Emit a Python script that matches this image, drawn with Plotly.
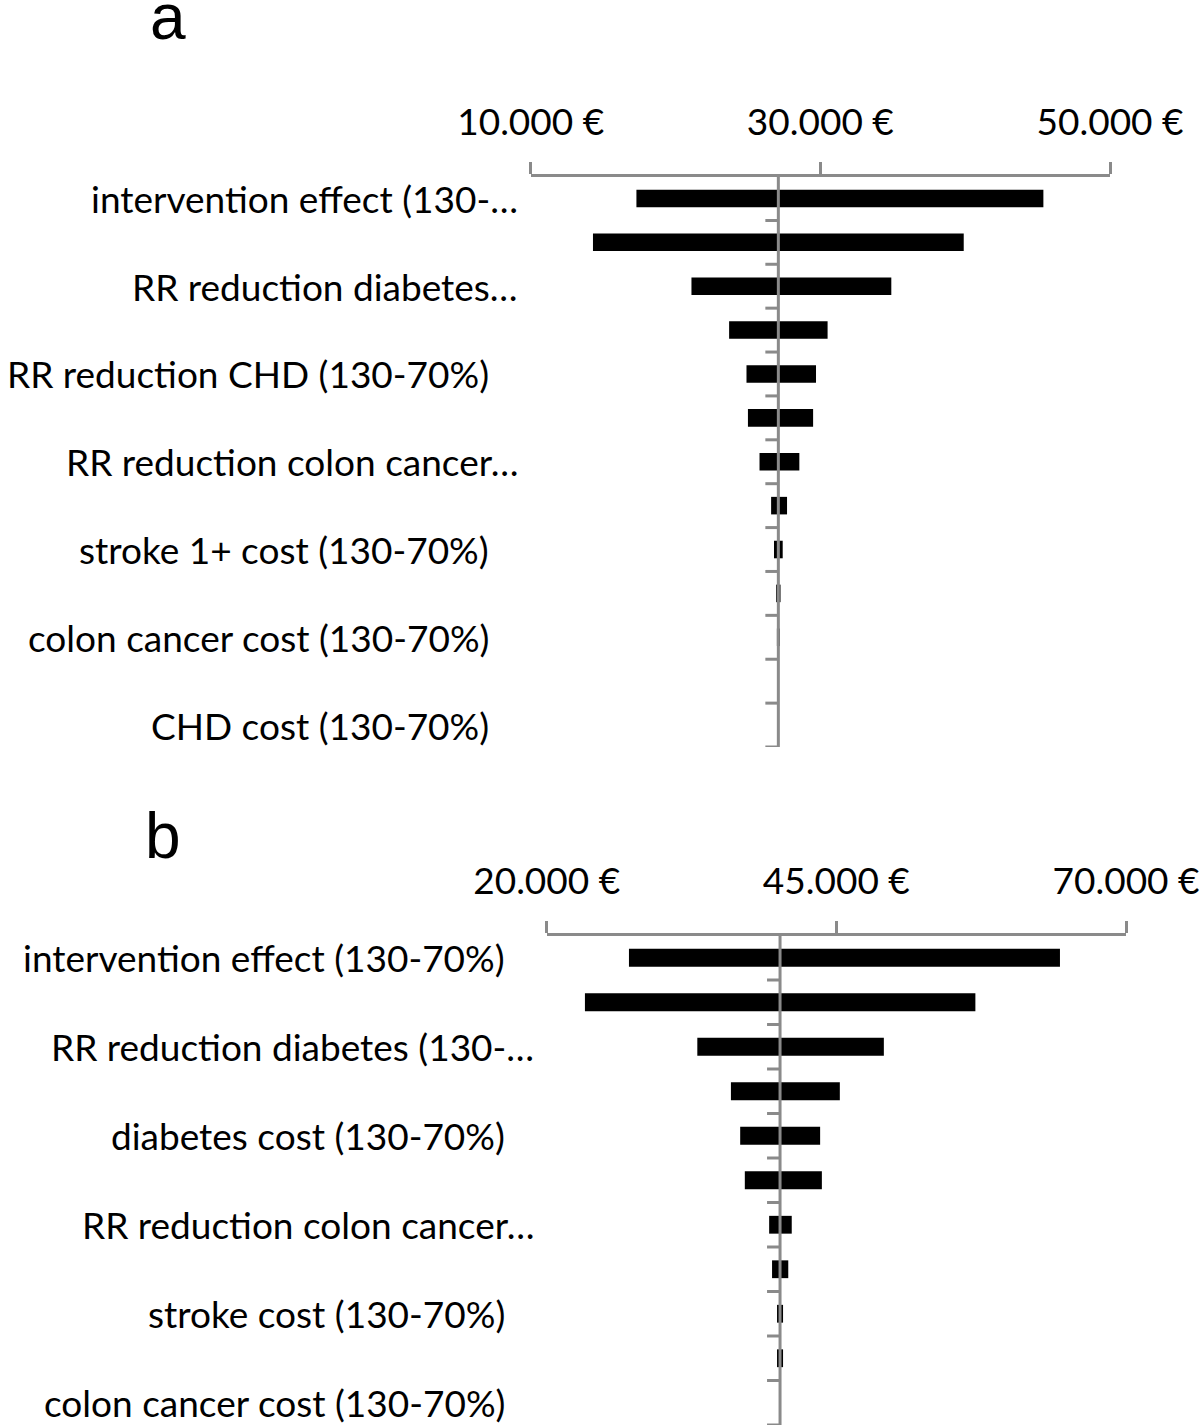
import plotly.graph_objects as go

# ---------------- data ----------------
labels_a = ["intervention effect (130-…", "", "RR reduction diabetes…", "",
            "RR reduction CHD (130-70%)", "", "RR reduction colon cancer…", "",
            "stroke 1+ cost (130-70%)", "", "colon cancer cost (130-70%)", "",
            "CHD cost (130-70%)"]
low_a = [17300, 14300, 21100, 23700, 24900, 25000, 25800, 26600, 26800, 26950, 27000, 27100, 27100]
high_a = [45400, 39900, 34900, 30500, 29700, 29500, 28550, 27700, 27400, 27250, 27200, 27100, 27100]
base_a = 27100
ticks_a = [10000, 30000, 50000]
ticktext_a = ["10.000 €", "30.000 €", "50.000 €"]

labels_b = ["intervention effect (130-70%)", "", "RR reduction diabetes (130-…", "",
            "diabetes cost (130-70%)", "", "RR reduction colon cancer…", "",
            "stroke cost (130-70%)", "", "colon cancer cost (130-70%)"]
low_b = [27100, 23300, 33000, 35900, 36700, 37100, 39200, 39450, 39880, 39880, 40140]
high_b = [64300, 57000, 49100, 45300, 43600, 43750, 41150, 40850, 40400, 40400, 40140]
base_b = 40140
ticks_b = [20000, 45000, 70000]
ticktext_b = ["20.000 €", "45.000 €", "70.000 €"]

# ---------------- style ----------------
W, H = 1200, 1427
GRAY = "#8a8a8a"
FONT = "Lato"
FS = 37

fig = go.Figure()

panels = [
    dict(labels=labels_a, low=low_a, high=high_a, base=base_a, ticks=ticks_a, tt=ticktext_a,
         xa="x", ya="y", xdom=[530.7 / W, 1110 / W], ydom=[1 - 747 / H, 1 - 176.5 / H]),
    dict(labels=labels_b, low=low_b, high=high_b, base=base_b, ticks=ticks_b, tt=ticktext_b,
         xa="x2", ya="y2", xdom=[546.7 / W, 1126 / W], ydom=[1 - 1425 / H, 1 - 935.5 / H]),
]

shapes = []
annotations = []
for i, p in enumerate(panels):
    n = len(p["labels"])
    ypos = list(range(n))
    widths = [h - l for l, h in zip(p["low"], p["high"])]
    fig.add_trace(go.Bar(
        x=widths, base=p["low"], y=ypos, orientation="h",
        marker=dict(color="black", line=dict(width=0)),
        width=0.4, xaxis=p["xa"], yaxis=p["ya"], showlegend=False, hoverinfo="skip",
    ))
    suffix = "" if i == 0 else "2"
    fig.update_layout(**{
        "xaxis" + suffix: dict(
            domain=p["xdom"], anchor=p["ya"], side="top", automargin=False,
            range=[p["ticks"][0], p["ticks"][-1]],
            tickvals=p["ticks"], ticktext=p["tt"],
            showgrid=False, zeroline=False, showline=True,
            linecolor=GRAY, linewidth=3, ticks="outside", ticklen=12,
            tickwidth=3, tickcolor=GRAY, ticklabelstandoff=12,
            tickfont=dict(family=FONT, size=FS, color="black"),
        ),
        "yaxis" + suffix: dict(
            domain=p["ydom"], anchor=p["xa"], range=[n - 0.5, -0.5], automargin=False,
            showgrid=False, zeroline=False, showline=False,
            showticklabels=False, ticks="",
        ),
    })
    # center (baseline) line
    shapes.append(dict(type="line", xref=p["xa"], yref=p["ya"], x0=p["base"], x1=p["base"],
                       y0=-0.5, y1=n - 0.5, line=dict(color=GRAY, width=3), layer="above"))
    # category boundary ticks
    for k in range(n):
        shapes.append(dict(type="line", xref=p["xa"], yref=p["ya"], xsizemode="pixel",
                           xanchor=p["base"], x0=-13, x1=0, y0=k + 0.5, y1=k + 0.5,
                           line=dict(color=GRAY, width=3), layer="above"))
    # category labels
    for k, lab in enumerate(p["labels"]):
        if not lab:
            continue
        annotations.append(dict(
            text=lab, xref=p["xa"] + " domain", yref=p["ya"], x=0, y=k,
            xanchor="right", yanchor="middle",
            xshift=-11 if lab.endswith("…") else -40,
            showarrow=False, font=dict(family=FONT, size=FS, color="black"),
        ))

annotations.append(dict(text="a", xref="paper", yref="paper", x=168 / W, y=1 - 17 / H,
                        xanchor="center", yanchor="middle", showarrow=False,
                        font=dict(family="Liberation Sans", size=64, color="black")))
annotations.append(dict(text="b", xref="paper", yref="paper", x=163 / W, y=1 - 836 / H,
                        xanchor="center", yanchor="middle", showarrow=False,
                        font=dict(family="Liberation Sans", size=64, color="black")))

fig.update_layout(
    template="none",
    width=W, height=H, margin=dict(l=0, r=0, t=0, b=0, autoexpand=False),
    paper_bgcolor="white", plot_bgcolor="white",
    shapes=shapes, annotations=annotations, barmode="overlay",
)

fig.write_html("out.html", config={"displayModeBar": False},
               post_script="document.body.style.margin='0px';document.body.style.padding='0px';")
